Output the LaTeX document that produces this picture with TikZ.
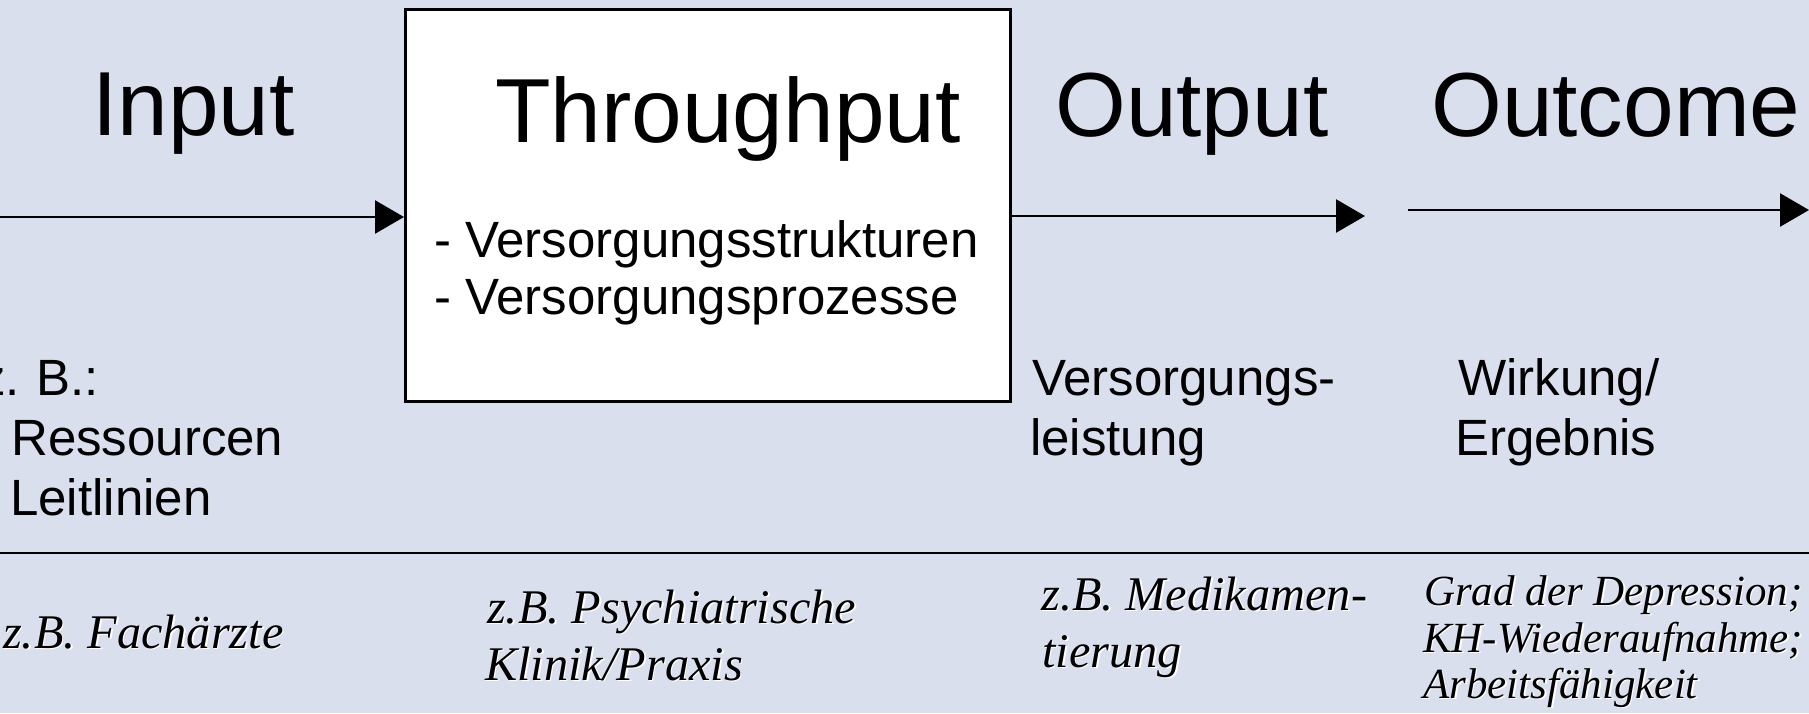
\documentclass[tikz,border=0pt]{standalone}
\usepackage{fontspec}
\setmainfont{Liberation Sans}
\newfontfamily\exfont{Liberation Serif}
\usetikzlibrary{arrows.meta}
\definecolor{slide}{RGB}{218,223,238}
% italic example text with a light drop shadow
\newcommand\shadowed[1]{\rlap{\kern1.6pt\raisebox{-1.6pt}{\color{white}#1}}#1}

\begin{document}
\begin{tikzpicture}[x=1pt,y=-1pt,
  head/.style={anchor=base west,inner sep=0pt,font=\fontsize{91}{100}\selectfont},
  body/.style={anchor=base west,inner sep=0pt,font=\fontsize{51}{58}\selectfont},
  ex/.style={anchor=base west,inner sep=0pt,font=\exfont\itshape\fontsize{48.3}{57}\selectfont},
  exsmall/.style={ex,font=\exfont\itshape\fontsize{43}{47}\selectfont},
  flow/.style={line width=2.6pt,-{Triangle[length=29pt,width=33pt]}},
  stagebox/.style={draw,fill=white,line width=2.5pt,inner sep=0pt,anchor=north west,
    minimum width=605pt,minimum height=392pt}]

  % slide background
  \useasboundingbox (0,0) rectangle (1809,713);
  \fill[slide] (0,0) rectangle (1809,713);

  % the throughput box
  \node[stagebox] (thr) at (404,8) {};

  % stage headings
  \node[head] (hin)  at (92,135)   {Input};
  \node[head] (hthr) at (495,142)  {Throughput};
  \node[head] (hout) at (1055,136) {Output};
  \node[head] (hoc)  at (1431,136) {Outcome};

  % box contents
  \node[body] (t1) at (434,257) {- Versorgungsstrukturen};
  \node[body] (t2) at (434,314) {- Versorgungsprozesse};

  % flow arrows
  \coordinate (inStart) at (0,217);
  \coordinate (outEnd) at (1365,216);
  \coordinate (ocStart) at (1408,210);
  \coordinate (ocEnd) at (1809,210);
  \draw[flow] (inStart) -- (thr.west |- inStart);
  \draw[flow] (thr.east |- outEnd) -- (outEnd);
  \draw[flow] (ocStart) -- (ocEnd);

  % descriptions
  \node[body] (zb)  at (-20,395) {z.\kern-0.05em{} B.:};
  \node[body] (res) at (11,455)  {Ressourcen};
  \node[body] (lei) at (10,515)  {Leitlinien};
  \node[body] (vl1) at (1032,395) {Versorgungs-};
  \node[body] (vl2) at (1030,455) {leistung};
  \node[body] (we1) at (1458,395) {Wirkung/};
  \node[body] (we2) at (1455,455) {Ergebnis};

  % separator
  \coordinate (ruleL) at (0,553);
  \coordinate (ruleR) at (1809,553);
  \draw[line width=2pt] (ruleL) -- (ruleR);

  % examples
  \node[ex] (e1)  at (3,648)   {\shadowed{z.B. Fachärzte}};
  \node[ex] (e2a) at (487,623) {\shadowed{z.B. Psychiatrische}};
  \node[ex] (e2b) at (485,680) {\shadowed{Klinik/Praxis}};
  \node[ex] (e3a) at (1041,610) {\shadowed{z.B. Medikamen-}};
  \node[ex] (e3b) at (1042,667) {\shadowed{tierung}};
  \node[exsmall] (e4a) at (1424,605) {\shadowed{Grad der Depression;}};
  \node[exsmall] (e4b) at (1423,652) {\shadowed{KH-Wiederaufnahme;}};
  \node[exsmall] (e4c) at (1423,698) {\shadowed{Arbeitsfähigkeit}};
\end{tikzpicture}
\end{document}
